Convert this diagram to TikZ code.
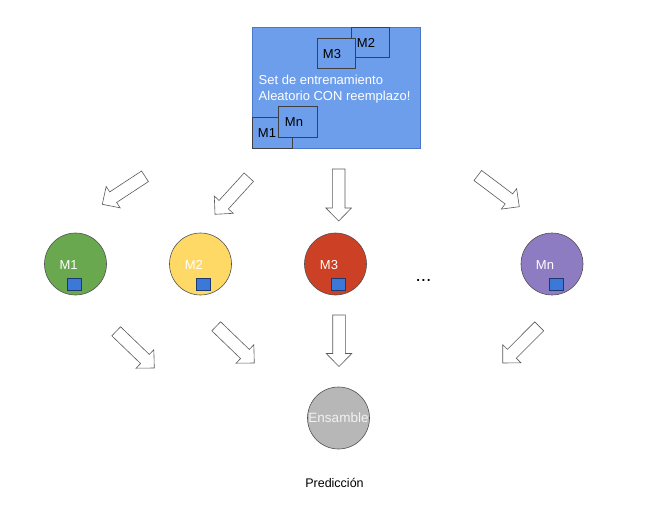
\documentclass[tikz,border=0pt]{standalone}
\usepackage{fontspec}
\setmainfont{Liberation Sans}
\usetikzlibrary{calc}
\definecolor{setblue}{HTML}{6D9EEB}
\definecolor{setedge}{HTML}{4A78C8}
\definecolor{sqblue}{HTML}{3C78D8}
\definecolor{sqedge}{HTML}{1C3A6E}
\definecolor{cgreen}{HTML}{6AA84F}
\definecolor{cyellow}{HTML}{FFD966}
\definecolor{cred}{HTML}{CC4125}
\definecolor{cpurple}{HTML}{8E7CC3}
\definecolor{cgray}{HTML}{B7B7B7}
\definecolor{cedge}{HTML}{4F4F4F}
\definecolor{aedge}{HTML}{5A5A5A}
\tikzset{
  setbox/.style={draw=setedge, fill=setblue, line width=0.5pt, inner sep=0pt},
  subbox/.style={draw=black!75, fill=setblue, line width=0.5pt, inner sep=0pt},
  model/.style={circle, draw=cedge, line width=0.6pt, minimum size=62pt, inner sep=0pt},
  sq/.style={draw=sqedge, fill=sqblue, line width=0.5pt, minimum width=14pt, minimum height=12pt, inner sep=0pt},
  wtext/.style={text=white, font=\fontsize{13}{15}\selectfont, inner sep=0pt},
  btext/.style={text=black, font=\fontsize{12.5}{15}\selectfont, inner sep=0pt},
  barrow/.style={draw=aedge, fill=white, line width=0.6pt, line join=miter}
}
\newcommand\blockarrow[2]{%
  \coordinate (hb) at ($(#2)!13pt!(#1)$);
  \draw[barrow] ($(#1)!6.3pt!90:(#2)$) -- ($(hb)!6.3pt!-90:(#1)$) -- ($(hb)!12.8pt!-90:(#1)$)
     -- (#2) -- ($(hb)!12.8pt!90:(#1)$) -- ($(hb)!6.3pt!90:(#1)$) -- ($(#1)!6.3pt!-90:(#2)$) -- cycle;}
\begin{document}
\begin{tikzpicture}[x=1pt,y=-1pt]
\useasboundingbox (0,0) rectangle (672,504);
% training set
\node[setbox, minimum width=168pt, minimum height=121pt] (set) at (336,87.5) {};
\node[subbox, minimum width=38pt, minimum height=30pt] (bm2) at (370,42) {};
\node[subbox, minimum width=38pt, minimum height=30pt] (bm3) at (336,53) {};
\node[subbox, minimum width=40pt, minimum height=31pt] (bm1) at (272,132.5) {};
\node[subbox, minimum width=39pt, minimum height=31pt] (bmn) at (297.5,121.5) {};
\node[btext, font=\fontsize{13}{15}\selectfont] (tm2) at (366,42.5) {M2};
\node[btext, font=\fontsize{13}{15}\selectfont] (tm3) at (332,54) {M3};
\node[btext, font=\fontsize{13}{15}\selectfont] (tm1) at (267,133) {M1};
\node[btext, font=\fontsize{13}{15}\selectfont] (tmn) at (294,122) {Mn};
\node[wtext, font=\fontsize{13}{16}\selectfont, anchor=west, align=left] (settxt) at (258.5,89)
  {Set de entrenamiento\\Aleatorio CON reemplazo!};
% models
\node[model, fill=cgreen] (m1) at (75.5,264) {};
\node[model, fill=cyellow] (m2) at (200.5,264) {};
\node[model, fill=cred] (m3) at (335.5,264) {};
\node[model, fill=cpurple] (mn) at (552,264) {};
\node[wtext] (l1) at (68.7,265) {M1};
\node[wtext] (l2) at (193.8,265) {M2};
\node[wtext] (l3) at (329,265) {M3};
\node[wtext] (ln) at (545,265) {Mn};
\node[sq] (s1) at (74.5,284) {};
\node[sq] (s2) at (203,284) {};
\node[sq] (s3) at (338,284) {};
\node[sq] (sn) at (556,284) {};
\node[btext, anchor=base, font=\fontsize{19}{20}\selectfont] (dots) at (423.5,281) {...};
% ensemble
\node[model, fill=cgray, text=black!5, font=\fontsize{13.5}{15}\selectfont] (ens) at (338.5,418) {Ensamble};
\node[btext] (pred) at (334.5,483) {Predicción};
% arrows
\coordinate (a1t) at (145,176.3);   \coordinate (a1p) at (102.3,204.3);
\coordinate (a2t) at (248.8,177.2); \coordinate (a2p) at (215,214.3);
\coordinate (a3t) at (338.7,169);   \coordinate (a3p) at (338.7,221);
\coordinate (a4t) at (477.8,175.5); \coordinate (a4p) at (519.3,206.7);
\coordinate (b1t) at (116.2,331.3); \coordinate (b1p) at (154.3,368);
\coordinate (b2t) at (216.2,326.3); \coordinate (b2p) at (254.3,363);
\coordinate (b3t) at (339,315);     \coordinate (b3p) at (339,366.5);
\coordinate (b4t) at (539.2,326.3); \coordinate (b4p) at (502.7,363);
\blockarrow{a1t}{a1p}
\blockarrow{a2t}{a2p}
\blockarrow{a3t}{a3p}
\blockarrow{a4t}{a4p}
\blockarrow{b1t}{b1p}
\blockarrow{b2t}{b2p}
\blockarrow{b3t}{b3p}
\blockarrow{b4t}{b4p}
\end{tikzpicture}
\end{document}
